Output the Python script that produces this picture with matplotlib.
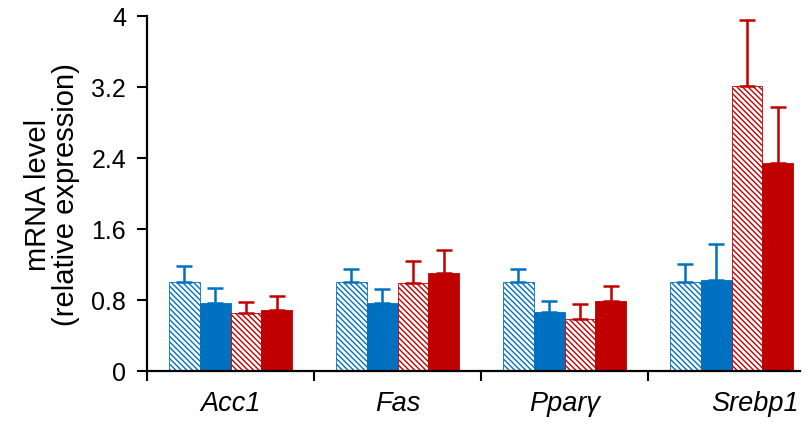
import matplotlib
matplotlib.use("Agg")
import matplotlib.pyplot as plt
import matplotlib.transforms as mtransforms
import numpy as np

plt.rcParams['font.family'] = ['Liberation Sans', 'DejaVu Sans']
plt.rcParams['hatch.linewidth'] = 1.0

genes = ["Acc1", "Fas", "Ppar\u03b3", "Srebp1"]
series_names = ["Blue hatched", "Blue solid", "Red hatched", "Red solid"]
blue_hatched = [1.00, 1.00, 1.00, 1.00]
blue_solid = [0.77, 0.77, 0.67, 1.03]
red_hatched = [0.65, 0.99, 0.59, 3.21]
red_solid = [0.69, 1.10, 0.79, 2.34]
err_blue_hatched = [0.18, 0.15, 0.15, 0.21]
err_blue_solid = [0.16, 0.15, 0.12, 0.40]
err_red_hatched = [0.13, 0.25, 0.16, 0.75]
err_red_solid = [0.16, 0.26, 0.17, 0.64]
y_ticks = [0, 0.8, 1.6, 2.4, 3.2, 4]
y_tick_labels = ["0", "0.8", "1.6", "2.4", "3.2", "4"]

BLUE = "#0070C0"
RED = "#C00000"

values = [blue_hatched, blue_solid, red_hatched, red_solid]
errors = [err_blue_hatched, err_blue_solid, err_red_hatched, err_red_solid]
colors = [BLUE, BLUE, RED, RED]
hatched = [True, False, True, False]

fig = plt.figure(figsize=(8.10, 4.27), dpi=100)
ax = fig.add_axes([147 / 810, 55 / 427, (800 - 147) / 810, (410 - 55) / 427])

x = np.arange(len(genes))
width = 0.185
offsets = (np.arange(4) - 1.5) * width

for vals, errs, col, hat, off in zip(values, errors, colors, hatched, offsets):
    if hat:
        ax.bar(x + off, vals, width, color="white", edgecolor=col,
               hatch="\\" * 6, linewidth=0.6, zorder=2)
    else:
        ax.bar(x + off, vals, width, color=col, edgecolor=col,
               linewidth=0.6, zorder=2)
    ax.errorbar(x + off, vals, yerr=[np.zeros(len(errs)), errs], fmt="none",
                ecolor=col, elinewidth=1.8, capsize=6, capthick=1.8, zorder=3)

ax.set_ylim(0, 4)
ax.set_xlim(-0.5, -0.5 + (800 - 147) / 167)
ax.set_yticks(y_ticks)
ax.set_yticklabels(y_tick_labels, fontsize=18)

ax.set_xticks([-0.5, 0.5, 1.5, 2.5])
ax.set_xticklabels([])
ax.set_xticks(x, minor=True)
ax.set_xticklabels(genes, minor=True, fontsize=19.5, style="italic")
ax.tick_params(axis="x", which="minor", length=0, pad=14)
ax.tick_params(axis="x", which="major", length=7, width=1.5, direction="out")
ax.tick_params(axis="y", length=7, width=1.5, direction="out", pad=8)

# nudge the last gene label to the right
last = ax.get_xticklabels(minor=True)[-1]
last.set_transform(last.get_transform() +
                   mtransforms.ScaledTranslation(0.24, 0, fig.dpi_scale_trans))

for side in ("top", "right"):
    ax.spines[side].set_visible(False)
for side in ("left", "bottom"):
    ax.spines[side].set_linewidth(1.6)

ax.set_ylabel("mRNA level\n(relative expression)", fontsize=21,
              linespacing=1.0, labelpad=8)

fig.savefig("out.png", dpi=100)
